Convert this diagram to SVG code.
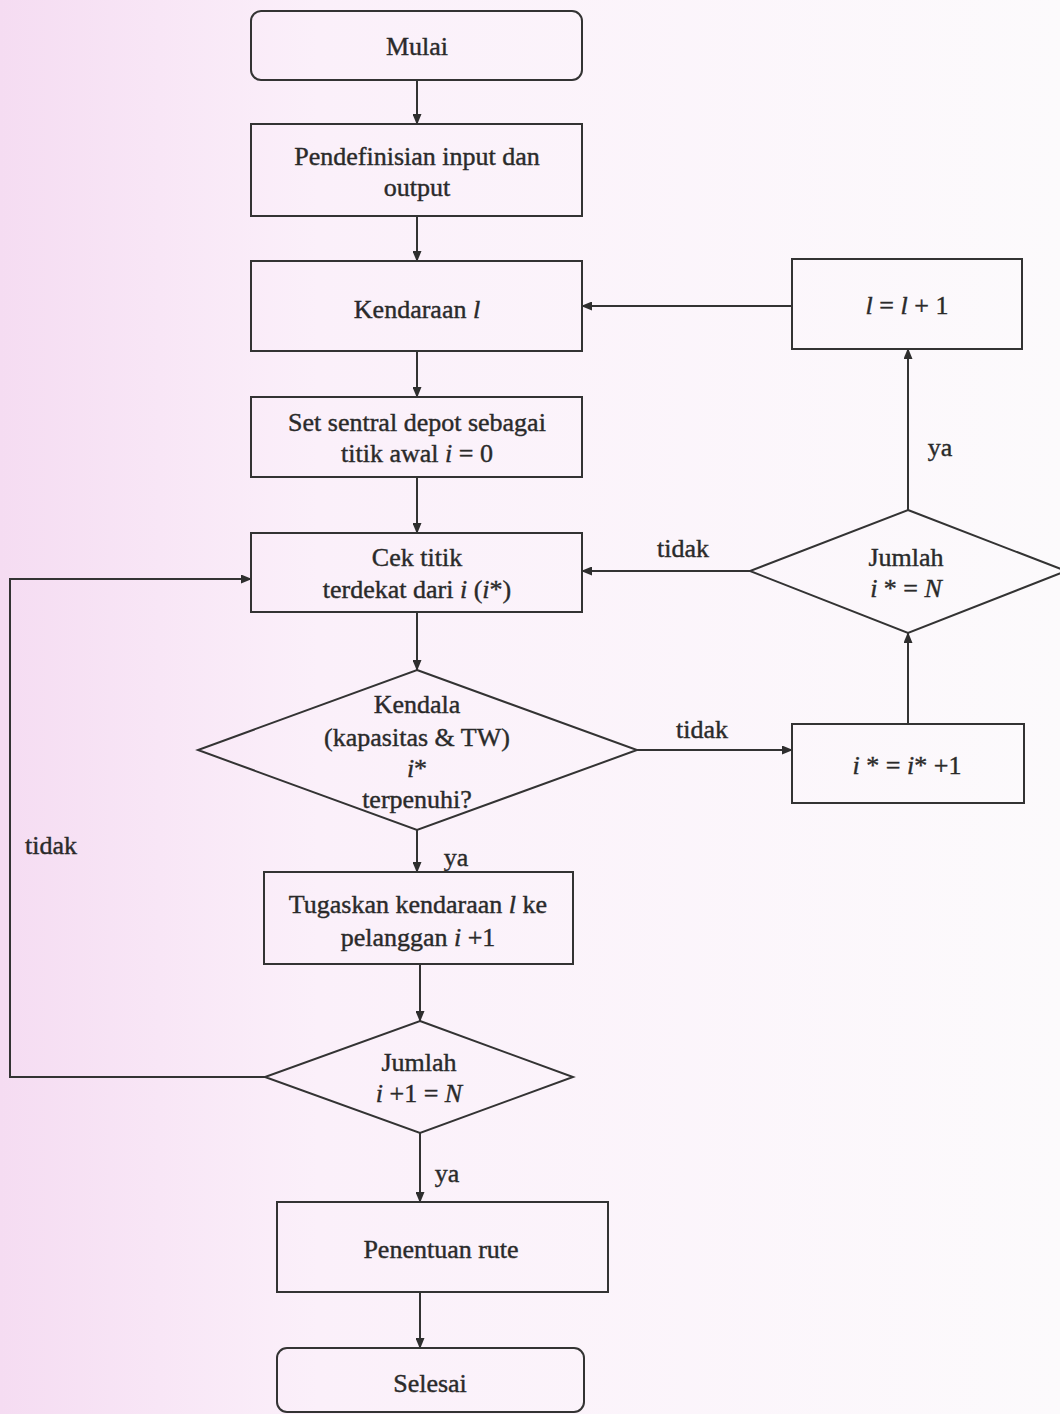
<svg xmlns="http://www.w3.org/2000/svg" width="1060" height="1414" viewBox="0 0 1060 1414">
<defs>
<linearGradient id="bg" x1="0" y1="0" x2="1" y2="0">
<stop offset="0" stop-color="#f5dcf2"/>
<stop offset="0.3" stop-color="#fbf0fa"/>
<stop offset="1" stop-color="#fcfafc"/>
</linearGradient>
<marker id="arr" markerWidth="11" markerHeight="9" refX="10" refY="4.5" orient="auto" markerUnits="userSpaceOnUse">
<path d="M0,0 L11,4.5 L0,9 Z" fill="#2e2e2e"/>
</marker>
<style>
.box{fill:none;stroke:#333;stroke-width:2}
.ln{fill:none;stroke:#333;stroke-width:2;marker-end:url(#arr)}
.t{font-family:"Liberation Serif","Times New Roman",serif;font-size:26px;fill:#2a2a2a;stroke:#2a2a2a;stroke-width:0.4;text-anchor:middle}
.l{font-family:"Liberation Serif","Times New Roman",serif;font-size:26px;fill:#2a2a2a;stroke:#2a2a2a;stroke-width:0.4}
.it{font-style:italic}
</style>
</defs>
<rect x="0" y="0" width="1060" height="1414" fill="url(#bg)"/>

<g id="connectors">
<path class="ln" d="M417,80 V124"/>
<path class="ln" d="M417,216 V261"/>
<path class="ln" d="M417,351 V397"/>
<path class="ln" d="M417,477 V533"/>
<path class="ln" d="M417,612 V670"/>
<path class="ln" d="M417,830 V872"/>
<path class="ln" d="M420,964 V1021"/>
<path class="ln" d="M420,1133 V1202"/>
<path class="ln" d="M420,1292 V1348"/>
<path class="ln" d="M637,750 H792"/>
<path class="ln" d="M908,724 V633"/>
<path class="ln" d="M750,571 H582"/>
<path class="ln" d="M908,510 V349"/>
<path class="ln" d="M792,306 H582"/>
<path class="ln" d="M265,1077 H10 V579 H251"/>
<text class="l" x="940" y="456" text-anchor="middle">ya</text>
<text class="l" x="683" y="557" text-anchor="middle">tidak</text>
<text class="l" x="702" y="738" text-anchor="middle">tidak</text>
<text class="l" x="456" y="866" text-anchor="middle">ya</text>
<text class="l" x="25" y="854">tidak</text>
<text class="l" x="447" y="1182" text-anchor="middle">ya</text>
</g>

<g id="mulai">
<rect class="box" x="251" y="11" width="331" height="69" rx="10"/>
<text class="t" x="417" y="55">Mulai</text>
</g>
<g id="pendefinisian">
<rect class="box" x="251" y="124" width="331" height="92"/>
<text class="t" x="417" y="165">Pendefinisian input dan</text>
<text class="t" x="417" y="196">output</text>
</g>
<g id="kendaraan">
<rect class="box" x="251" y="261" width="331" height="90"/>
<text class="t" x="417" y="318">Kendaraan <tspan class="it">l</tspan></text>
</g>
<g id="set-depot">
<rect class="box" x="251" y="397" width="331" height="80"/>
<text class="t" x="417" y="431">Set sentral depot sebagai</text>
<text class="t" x="417" y="462">titik awal <tspan class="it">i</tspan> = 0</text>
</g>
<g id="cek-titik">
<rect class="box" x="251" y="533" width="331" height="79"/>
<text class="t" x="417" y="566">Cek titik</text>
<text class="t" x="417" y="598">terdekat dari <tspan class="it">i</tspan> (<tspan class="it">i</tspan>*)</text>
</g>
<g id="kendala">
<polygon class="box" points="417,670 637,750 417,830 198,750"/>
<text class="t" x="417" y="713">Kendala</text>
<text class="t" x="417" y="746">(kapasitas &amp; TW)</text>
<text class="t" x="417" y="777"><tspan class="it">i</tspan>*</text>
<text class="t" x="417" y="808">terpenuhi?</text>
</g>
<g id="i-star-inc">
<rect class="box" x="792" y="724" width="232" height="79"/>
<text class="t" x="907" y="774"><tspan class="it">i</tspan> * = <tspan class="it">i</tspan>* +1</text>
</g>
<g id="jumlah-istar">
<polygon class="box" points="908,510 1066,571 908,633 750,571"/>
<text class="t" x="906" y="566">Jumlah</text>
<text class="t" x="906" y="597"><tspan class="it">i</tspan> * = <tspan class="it">N</tspan></text>
</g>
<g id="l-inc">
<rect class="box" x="792" y="259" width="230" height="90"/>
<text class="t" x="907" y="314"><tspan class="it">l</tspan> = <tspan class="it">l</tspan> + 1</text>
</g>
<g id="tugaskan">
<rect class="box" x="264" y="872" width="309" height="92"/>
<text class="t" x="418" y="913">Tugaskan kendaraan <tspan class="it">l</tspan> ke</text>
<text class="t" x="418" y="946">pelanggan <tspan class="it">i</tspan> +1</text>
</g>
<g id="jumlah-i1">
<polygon class="box" points="420,1021 573,1077 420,1133 265,1077"/>
<text class="t" x="419" y="1071">Jumlah</text>
<text class="t" x="419" y="1102"><tspan class="it">i</tspan> +1 = <tspan class="it">N</tspan></text>
</g>
<g id="penentuan">
<rect class="box" x="277" y="1202" width="331" height="90"/>
<text class="t" x="441" y="1258">Penentuan rute</text>
</g>
<g id="selesai">
<rect class="box" x="277" y="1348" width="307" height="64" rx="10"/>
<text class="t" x="430" y="1392">Selesai</text>
</g>
</svg>
